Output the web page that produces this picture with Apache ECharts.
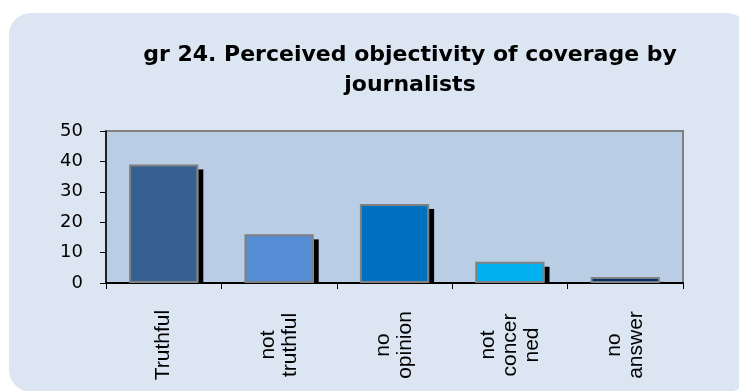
<!DOCTYPE html>
<html>
<head>
<meta charset="utf-8">
<script src="https://cdn.jsdelivr.net/npm/echarts@6/dist/echarts.min.js"></script>
<style>
  html, body { margin: 0; padding: 0; background: #ffffff; }
  #chart { width: 739px; height: 391px; }
</style>
</head>
<body>
<div id="chart"></div>
<script>
// Survey answers: perceived objectivity of coverage by journalists
var categories = ['Truthful', 'not\ntruthful', 'no\nopinion', 'not\nconcer\nned', 'no\nanswer'];
var values = [39, 16, 26, 7, 2];
var barColors = ['#366092', '#558ED5', '#0070C0', '#00B0F0', '#00306E'];
var yTicks = { min: 0, max: 50, interval: 10 };

var chart = echarts.init(document.getElementById('chart'), null, { renderer: 'canvas' });

var option = {
  backgroundColor: '#ffffff',
  animation: false,
  graphic: [{
    type: 'rect',
    z: -10,
    silent: true,
    shape: { x: 9, y: 13, width: 740, height: 379, r: 22 },
    style: { fill: '#DCE6F2' }
  }],
  title: {
    text: 'gr 24. Perceived objectivity of coverage by\njournalists',
    left: 410,
    top: 40,
    padding: 0,
    textAlign: 'center',
    textStyle: {
      fontFamily: 'DejaVu Sans',
      fontWeight: 'bold',
      fontSize: 22,
      lineHeight: 30,
      color: '#000000'
    }
  },
  grid: {
    left: 106, top: 131, right: 56, bottom: 108,
    show: true,
    backgroundColor: '#B9CDE5',
    borderColor: '#808080',
    borderWidth: 2
  },
  xAxis: {
    type: 'category',
    data: categories,
    boundaryGap: true,
    axisLine: { lineStyle: { color: '#000000', width: 2 } },
    axisTick: { show: true, length: 6, interval: 0, lineStyle: { color: '#000000', width: 1 } },
    axisLabel: {
      interval: 0,
      rotate: 90,
      align: 'center',
      verticalAlign: 'middle',
      margin: 62,
      fontFamily: 'Liberation Sans',
      fontSize: 21,
      lineHeight: 22,
      color: '#000000'
    }
  },
  yAxis: {
    type: 'value',
    min: yTicks.min,
    max: yTicks.max,
    interval: yTicks.interval,
    axisLine: { show: true, lineStyle: { color: '#000000', width: 1.5 } },
    axisTick: { show: true, length: 6, lineStyle: { color: '#000000' } },
    splitLine: { show: false },
    axisLabel: {
      margin: 23,
      fontFamily: 'DejaVu Sans',
      fontSize: 18,
      color: '#000000'
    }
  },
  series: [
    {
      // black drop shadow to the right of each bar
      type: 'custom',
      z: 1,
      silent: true,
      data: values.map(function (v, i) { return [i, v]; }),
      renderItem: function (params, api) {
        var top = api.coord([api.value(0), api.value(1)]);
        var base = api.coord([api.value(0), 0]);
        var bw = api.size([1, 0])[0] * 0.6;
        var x = top[0] + bw / 2;
        var y = top[1] + 5;
        return {
          type: 'rect',
          shape: { x: x, y: y, width: 5, height: Math.max(0, base[1] - y) },
          style: { fill: '#000000' }
        };
      }
    },
    {
      type: 'bar',
      z: 2,
      barWidth: '60%',
      data: values.map(function (v, i) {
        return { value: v, itemStyle: { color: barColors[i] } };
      }),
      itemStyle: { borderColor: '#808080', borderWidth: 2 }
    }
  ]
};

chart.setOption(option);
</script>
</body>
</html>
